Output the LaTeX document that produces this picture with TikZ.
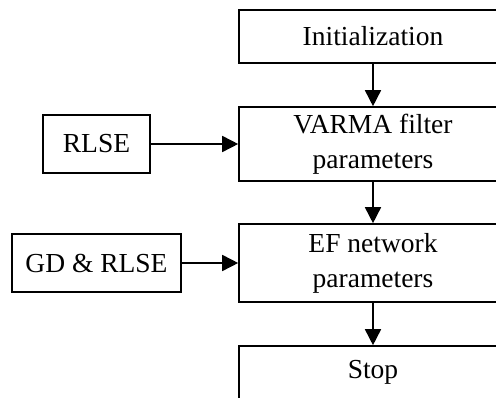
\documentclass[tikz,border=0pt]{standalone}
\usepackage{fontspec}
\setmainfont{Liberation Serif}
\usetikzlibrary{positioning,arrows.meta}

\begin{document}
\begin{tikzpicture}[x=1pt,y=1pt,on grid,line width=1.6pt,
   >={Triangle[length=16pt,width=16pt]},
   box/.style={draw,minimum width=268pt,align=center,
     font=\fontsize{27.5}{35}\selectfont},
   side/.style={draw,minimum height=58pt,inner sep=0pt,
     font=\fontsize{27.5}{35}\selectfont}]
   \useasboundingbox (0,0) rectangle (496,-398);
   \clip (0,0) rectangle (496,-398);

   \node[box,minimum height=53pt] (init) at (373,-36.5) {Initialization};
   \node[box,minimum height=74pt] (varma) [below=107.5pt of init] {VARMA filter\\parameters};
   \node[box,minimum height=78pt] (ef) [below=119pt of varma] {EF network\\parameters};
   \node[box,minimum height=53pt] (stop) [below=109.5pt of ef] {Stop};

   \node[side,minimum width=107pt] (rlse) [left=276.5pt of varma] {RLSE};
   \node[side,minimum width=169pt] (gdrlse) [left=276.5pt of ef] {GD \& RLSE};

   \draw[->] (init) -- (varma);
   \draw[->] (varma) -- (ef);
   \draw[->] (ef) -- (stop);
   \draw[->] (rlse) -- (varma);
   \draw[->] (gdrlse) -- (ef);
\end{tikzpicture}
\end{document}
